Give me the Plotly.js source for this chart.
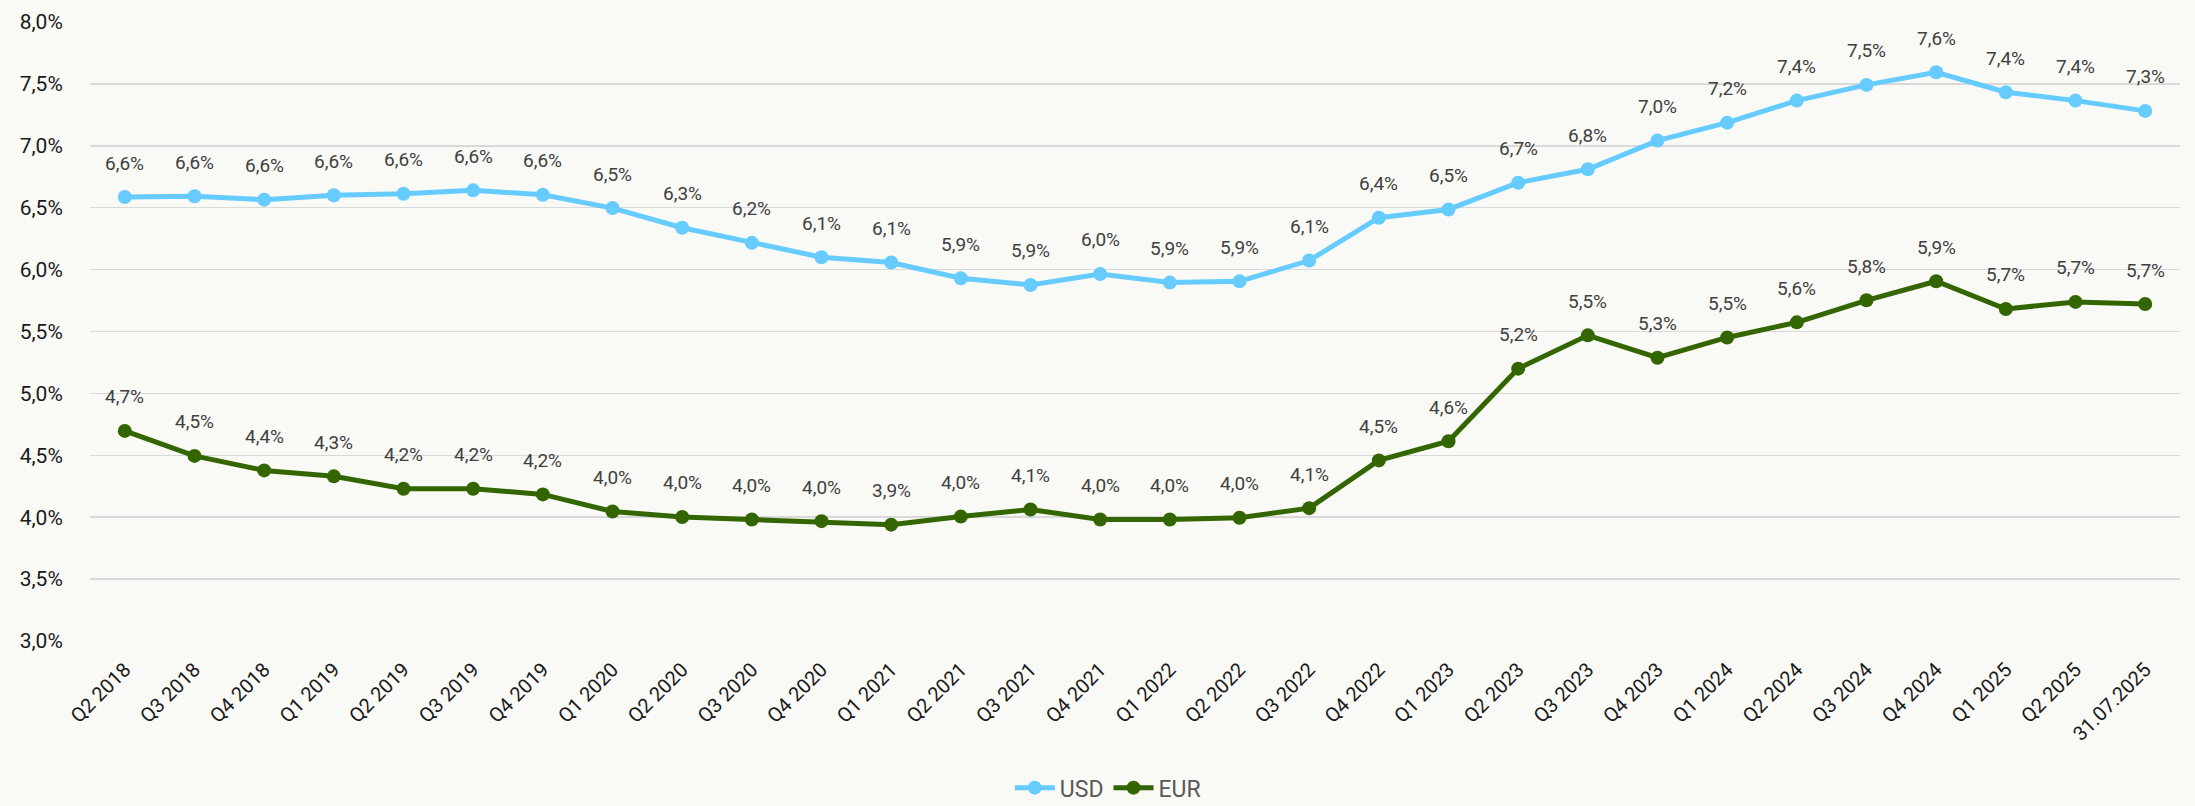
<!DOCTYPE html>
<html>
<head>
<meta charset="utf-8">
<script src="https://cdn.plot.ly/plotly-3.0.1.min.js"></script>
<style>
  html, body { margin: 0; padding: 0; background: #F9F9F6; }
  #chart { width: 2195px; height: 806px; }
</style>
</head>
<body>
<div id="chart"></div>
<script>
const categories = ["Q2 2018","Q3 2018","Q4 2018","Q1 2019","Q2 2019","Q3 2019","Q4 2019",
  "Q1 2020","Q2 2020","Q3 2020","Q4 2020","Q1 2021","Q2 2021","Q3 2021","Q4 2021",
  "Q1 2022","Q2 2022","Q3 2022","Q4 2022","Q1 2023","Q2 2023","Q3 2023","Q4 2023",
  "Q1 2024","Q2 2024","Q3 2024","Q4 2024","Q1 2025","Q2 2025","31.07.2025"];

const usdValues = [6.586, 6.592, 6.565, 6.600, 6.613, 6.640, 6.605, 6.497, 6.338, 6.216,
  6.100, 6.057, 5.930, 5.876, 5.965, 5.895, 5.905, 6.073, 6.419, 6.486,
  6.702, 6.810, 7.042, 7.187, 7.365, 7.492, 7.594, 7.433, 7.365, 7.282];

const eurValues = [4.697, 4.495, 4.378, 4.330, 4.230, 4.230, 4.184, 4.046, 4.002, 3.981,
  3.968, 3.940, 4.005, 4.062, 3.981, 3.981, 3.995, 4.073, 4.459, 4.614,
  5.200, 5.469, 5.288, 5.452, 5.574, 5.752, 5.906, 5.682, 5.739, 5.722];

const seriesNames = ["USD", "EUR"];
const seriesColors = ["#66CCFF", "#336600"];

function fmt(v) { return v.toFixed(1).replace('.', ',') + '%'; }

const FONT = "Roboto, 'DejaVu Sans', sans-serif";

const traces = [usdValues, eurValues].map((vals, i) => ({
  type: 'scatter',
  mode: 'lines+markers',
  name: seriesNames[i],
  x: categories,
  y: vals,
  line: { color: seriesColors[i], width: 5 },
  marker: { color: seriesColors[i], size: 14 },
  hoverinfo: 'skip'
}));

const annotations = [];
[usdValues, eurValues].forEach(vals => {
  vals.forEach((v, j) => {
    annotations.push({
      x: categories[j], y: v, xref: 'x', yref: 'y',
      text: fmt(v), showarrow: false, yshift: 34,
      xanchor: 'center', yanchor: 'middle',
      font: { family: FONT, size: 19, color: '#404040' }
    });
  });
});

const layout = {
  width: 2195, height: 806,
  paper_bgcolor: '#F9F9F6', plot_bgcolor: '#F9F9F6',
  separators: ',.',
  margin: { l: 90, r: 15, t: 22, b: 165, autoexpand: false },
  font: { family: FONT, size: 20, color: '#1a1a1a' },
  showlegend: true,
  legend: {
    orientation: 'h', x: 0.487, xanchor: 'center', y: -0.237, yanchor: 'middle',
    font: { family: FONT, size: 23, color: '#595959' },
    itemwidth: 40,
    bgcolor: 'rgba(0,0,0,0)'
  },
  xaxis: {
    type: 'category', automargin: false,
    range: [-0.5, categories.length - 0.5],
    tickangle: -45,
    showgrid: false, zeroline: false, showline: false,
    ticks: 'outside', ticklen: 8, tickcolor: 'rgba(0,0,0,0)',
    tickfont: { family: FONT, size: 20, color: '#1a1a1a' }
  },
  yaxis: {
    automargin: false,
    range: [3, 8], dtick: 0.5, tick0: 3,
    tickformat: '.1f', ticksuffix: '%',
    showgrid: true, gridcolor: '#D9D9D9', gridwidth: 1.5,
    zeroline: false, showline: false,
    ticks: 'outside', ticklen: 22, tickcolor: 'rgba(0,0,0,0)',
    tickfont: { family: FONT, size: 21, color: '#1a1a1a' }
  },
  annotations: annotations
};

Plotly.newPlot('chart', traces, layout, { displayModeBar: false, staticPlot: true });
</script>
</body>
</html>
